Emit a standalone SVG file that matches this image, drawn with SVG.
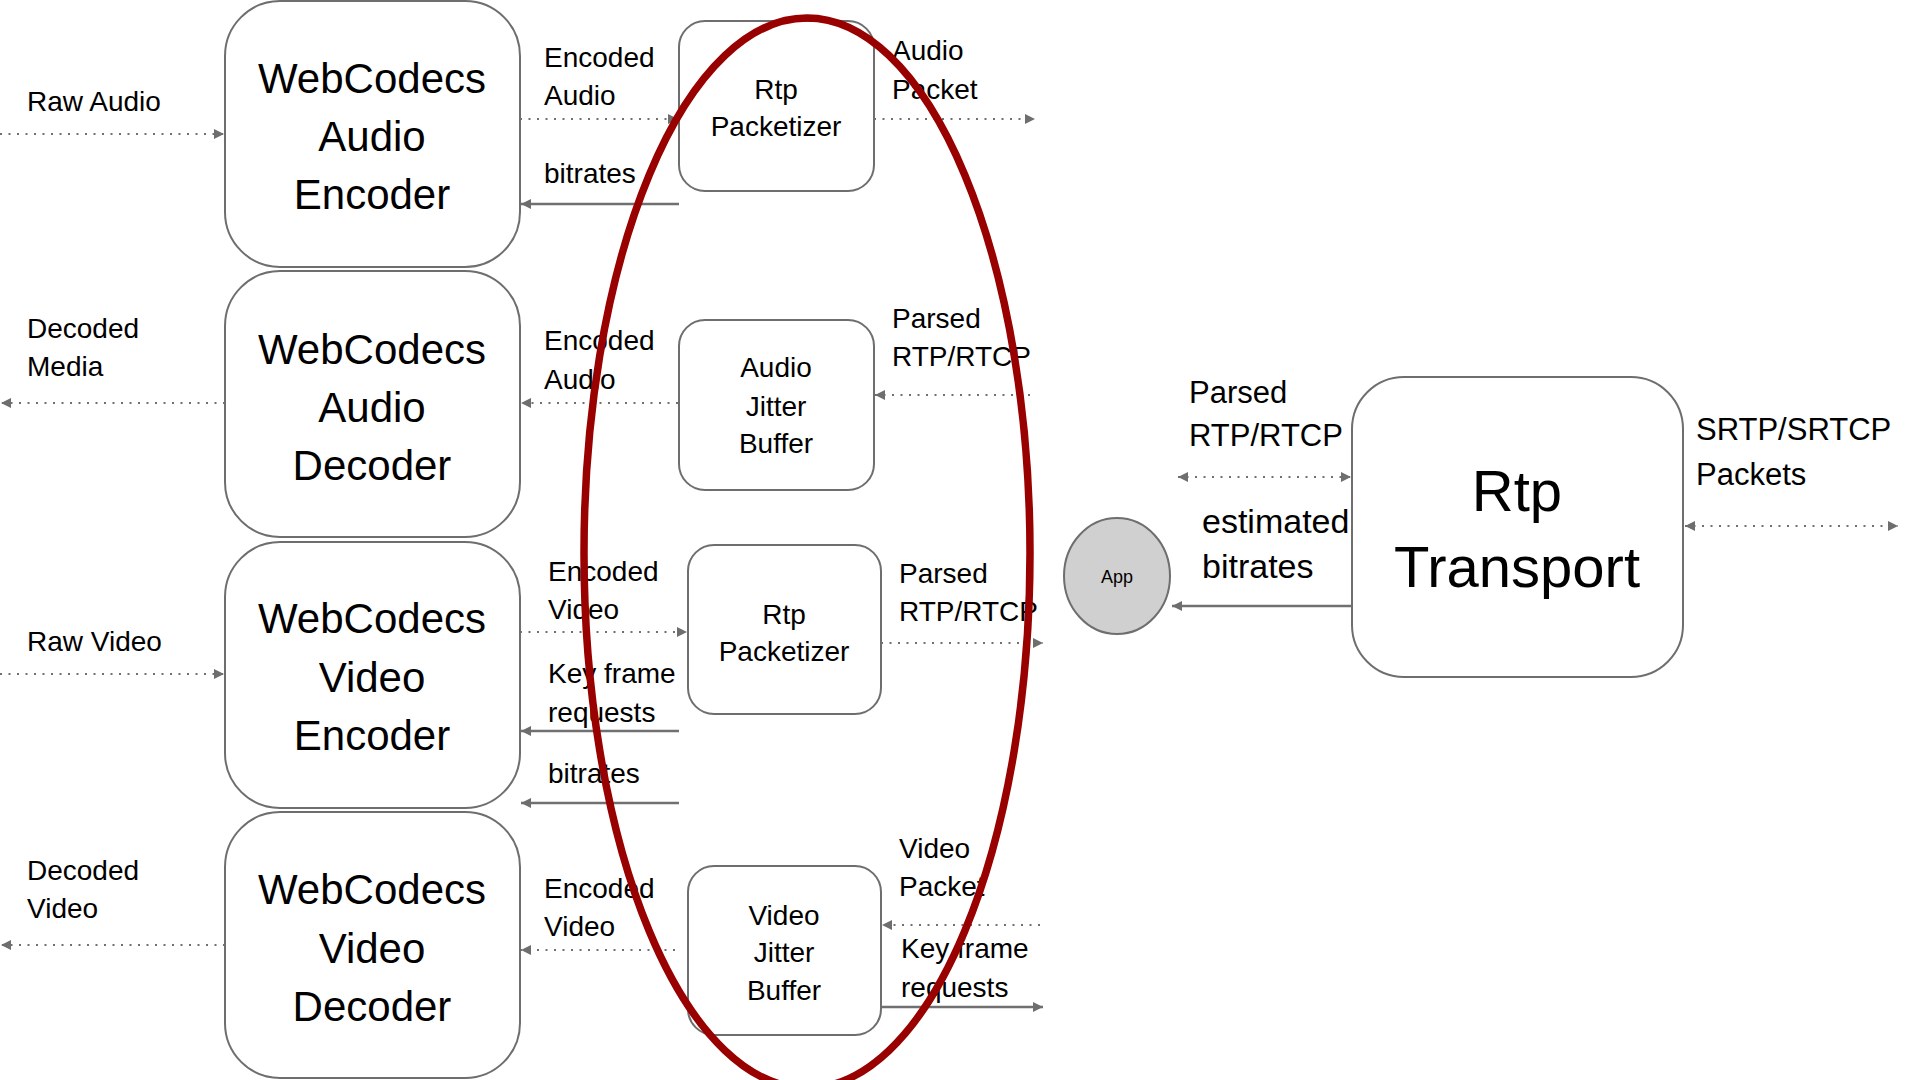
<svg xmlns="http://www.w3.org/2000/svg" width="1905" height="1080" viewBox="0 0 1905 1080">
<defs>
<marker id="ah" viewBox="0 0 10 10" refX="10" refY="5" markerWidth="11" markerHeight="10" markerUnits="userSpaceOnUse" orient="auto-start-reverse">
<path d="M0,0 L10,5 L0,10 z" fill="#6e6e6e"/>
</marker>
<style>
.box{fill:#fff;stroke:#6e6e6e;stroke-width:2}
.big{font-family:"Liberation Sans",Arial,sans-serif;font-size:42px;fill:#000;text-anchor:middle}
.mid{font-family:"Liberation Sans",Arial,sans-serif;font-size:28px;fill:#000;text-anchor:middle}
.lbl{font-family:"Liberation Sans",Arial,sans-serif;font-size:28px;fill:#000}
.lbl2{font-family:"Liberation Sans",Arial,sans-serif;font-size:31px;fill:#000}
.lbl3{font-family:"Liberation Sans",Arial,sans-serif;font-size:34px;fill:#000}
.dot{fill:none;stroke:#707070;stroke-width:2;stroke-dasharray:2 6.5}
.sol{fill:none;stroke:#707070;stroke-width:2.5}
</style>
</defs>
<rect width="1905" height="1080" fill="#fff"/>

<g id="audio-encoder">
<rect class="box" x="225" y="1" width="295" height="266" rx="55"/>
<text class="big" x="372" y="93">WebCodecs</text>
<text class="big" x="372" y="151">Audio</text>
<text class="big" x="372" y="209">Encoder</text>
</g>
<g id="audio-decoder">
<rect class="box" x="225" y="271" width="295" height="266" rx="55"/>
<text class="big" x="372" y="364">WebCodecs</text>
<text class="big" x="372" y="422">Audio</text>
<text class="big" x="372" y="480">Decoder</text>
</g>
<g id="video-encoder">
<rect class="box" x="225" y="542" width="295" height="266" rx="55"/>
<text class="big" x="372" y="633">WebCodecs</text>
<text class="big" x="372" y="692">Video</text>
<text class="big" x="372" y="750">Encoder</text>
</g>
<g id="video-decoder">
<rect class="box" x="225" y="812" width="295" height="266" rx="55"/>
<text class="big" x="372" y="904">WebCodecs</text>
<text class="big" x="372" y="963">Video</text>
<text class="big" x="372" y="1021">Decoder</text>
</g>
<g id="audio-packetizer">
<rect class="box" x="679" y="21" width="195" height="170" rx="26"/>
<text class="mid" x="776" y="99">Rtp</text>
<text class="mid" x="776" y="136">Packetizer</text>
</g>
<g id="audio-jitter-buffer">
<rect class="box" x="679" y="320" width="195" height="170" rx="26"/>
<text class="mid" x="776" y="377">Audio</text>
<text class="mid" x="776" y="416">Jitter</text>
<text class="mid" x="776" y="453">Buffer</text>
</g>
<g id="video-packetizer">
<rect class="box" x="688" y="545" width="193" height="169" rx="26"/>
<text class="mid" x="784" y="624">Rtp</text>
<text class="mid" x="784" y="661">Packetizer</text>
</g>
<g id="video-jitter-buffer">
<rect class="box" x="688" y="866" width="193" height="169" rx="26"/>
<text class="mid" x="784" y="925">Video</text>
<text class="mid" x="784" y="962">Jitter</text>
<text class="mid" x="784" y="1000">Buffer</text>
</g>
<g id="app">
<ellipse cx="1117" cy="576" rx="53" ry="58" fill="#d0d0d0" stroke="#6e6e6e" stroke-width="2"/>
<text x="1117" y="583" font-family="Liberation Sans, Arial, sans-serif" font-size="18" text-anchor="middle" fill="#000">App</text>
</g>
<g id="rtp-transport">
<rect class="box" x="1352" y="377" width="331" height="300" rx="52"/>
<text x="1517" y="511" font-family="Liberation Sans, Arial, sans-serif" font-size="58" text-anchor="middle" fill="#000">Rtp</text>
<text x="1517" y="587" font-family="Liberation Sans, Arial, sans-serif" font-size="58" text-anchor="middle" fill="#000">Transport</text>
</g>

<g id="connectors">
<line class="dot" x1="0" y1="134" x2="224" y2="134" marker-end="url(#ah)"/>
<line class="dot" x1="520" y1="119" x2="678" y2="119" marker-end="url(#ah)"/>
<line class="sol" x1="679" y1="204" x2="521" y2="204" marker-end="url(#ah)"/>
<line class="dot" x1="874" y1="119" x2="1035" y2="119" marker-end="url(#ah)"/>
<line class="dot" x1="225" y1="403" x2="1" y2="403" marker-end="url(#ah)"/>
<line class="dot" x1="678" y1="403" x2="521" y2="403" marker-end="url(#ah)"/>
<line class="dot" x1="1030" y1="395" x2="875" y2="395" marker-end="url(#ah)"/>
<line class="dot" x1="0" y1="674" x2="224" y2="674" marker-end="url(#ah)"/>
<line class="dot" x1="520" y1="632" x2="687" y2="632" marker-end="url(#ah)"/>
<line class="sol" x1="679" y1="731" x2="521" y2="731" marker-end="url(#ah)"/>
<line class="sol" x1="679" y1="803" x2="521" y2="803" marker-end="url(#ah)"/>
<line class="dot" x1="881" y1="643" x2="1043" y2="643" marker-end="url(#ah)"/>
<line class="dot" x1="225" y1="945" x2="1" y2="945" marker-end="url(#ah)"/>
<line class="dot" x1="675" y1="950" x2="521" y2="950" marker-end="url(#ah)"/>
<line class="dot" x1="1040" y1="925" x2="882" y2="925" marker-end="url(#ah)"/>
<line class="sol" x1="881" y1="1007" x2="1043" y2="1007" marker-end="url(#ah)"/>
<line class="dot" x1="1178" y1="477" x2="1351" y2="477" marker-start="url(#ah)" marker-end="url(#ah)"/>
<line class="sol" x1="1352" y1="606" x2="1172" y2="606" marker-end="url(#ah)"/>
<line class="dot" x1="1685" y1="526" x2="1898" y2="526" marker-start="url(#ah)" marker-end="url(#ah)"/>
</g>

<g id="labels">
<text class="lbl" x="27" y="111">Raw Audio</text>
<text class="lbl" x="544" y="67">Encoded</text>
<text class="lbl" x="544" y="105">Audio</text>
<text class="lbl" x="544" y="183">bitrates</text>
<text class="lbl" x="892" y="60">Audio</text>
<text class="lbl" x="892" y="99">Packet</text>
<text class="lbl" x="27" y="338">Decoded</text>
<text class="lbl" x="27" y="376">Media</text>
<text class="lbl" x="544" y="350">Encoded</text>
<text class="lbl" x="544" y="389">Audio</text>
<text class="lbl" x="892" y="328">Parsed</text>
<text class="lbl" x="892" y="366">RTP/RTCP</text>
<text class="lbl" x="27" y="651">Raw Video</text>
<text class="lbl" x="548" y="581">Encoded</text>
<text class="lbl" x="548" y="619">Video</text>
<text class="lbl" x="548" y="683">Key frame</text>
<text class="lbl" x="548" y="722">requests</text>
<text class="lbl" x="548" y="783">bitrates</text>
<text class="lbl" x="899" y="583">Parsed</text>
<text class="lbl" x="899" y="621">RTP/RTCP</text>
<text class="lbl" x="27" y="880">Decoded</text>
<text class="lbl" x="27" y="918">Video</text>
<text class="lbl" x="544" y="898">Encoded</text>
<text class="lbl" x="544" y="936">Video</text>
<text class="lbl" x="899" y="858">Video</text>
<text class="lbl" x="899" y="896">Packet</text>
<text class="lbl" x="901" y="958">Key frame</text>
<text class="lbl" x="901" y="997">requests</text>
<text class="lbl2" x="1189" y="403">Parsed</text>
<text class="lbl2" x="1189" y="446">RTP/RTCP</text>
<text class="lbl3" x="1202" y="533">estimated</text>
<text class="lbl3" x="1202" y="578">bitrates</text>
<text class="lbl2" x="1696" y="440">SRTP/SRTCP</text>
<text class="lbl2" x="1696" y="485">Packets</text>
</g>

<ellipse id="highlight" cx="807" cy="553" rx="223" ry="535" fill="none" stroke="#990000" stroke-width="7.5"/>
</svg>
